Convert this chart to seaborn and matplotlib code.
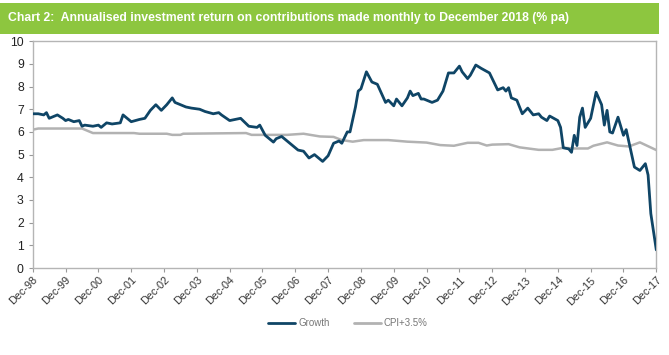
import pandas as pd
import matplotlib.pyplot as plt
import seaborn as sns

# months since Dec-98 and annualised return (% pa)
growth_months = [0, 2, 4, 5, 6, 9, 11, 12, 13, 15, 17, 18, 19, 22, 24, 25, 27, 29, 32, 33,
                 36, 39, 41, 43, 45, 47, 49, 51, 52, 56, 58, 61, 63, 66, 68, 69, 72, 76, 79, 82,
                 83, 85, 88, 89, 91, 93, 97, 99, 101, 103, 106, 108, 110, 112, 113, 115, 116, 118, 119, 120,
                 122, 124, 126, 129, 130, 132, 133, 135, 137, 138, 139, 141, 142, 143, 146, 148, 150, 152, 154, 156,
                 157, 159, 160, 162, 164, 167, 170, 172, 173, 174, 175, 177, 179, 181, 183, 185, 186, 188, 189, 192,
                 193, 194, 196, 197, 198, 199, 200, 201, 202, 204, 206, 208, 209, 210, 211, 212, 214, 216, 217, 218,
                 220, 222, 224, 225, 226, 228]
growth_values = [6.8, 6.8, 6.75, 6.85, 6.6, 6.75, 6.6, 6.5, 6.55, 6.45, 6.5, 6.25, 6.3, 6.25, 6.3, 6.2, 6.4, 6.35, 6.4, 6.75,
                 6.45, 6.55, 6.6, 6.95, 7.2, 6.95, 7.2, 7.5, 7.3, 7.1, 7.05, 7.0, 6.9, 6.8, 6.85, 6.75, 6.5, 6.6, 6.25, 6.2,
                 6.3, 5.85, 5.55, 5.7, 5.8, 5.6, 5.2, 5.15, 4.85, 5.0, 4.7, 4.95, 5.5, 5.6, 5.5, 6.0, 6.0, 7.1, 7.8, 7.9,
                 8.65, 8.2, 8.1, 7.3, 7.4, 7.15, 7.45, 7.15, 7.5, 7.8, 7.6, 7.7, 7.45, 7.45, 7.3, 7.4, 7.8, 8.6, 8.6, 8.9,
                 8.65, 8.35, 8.5, 8.95, 8.8, 8.6, 7.85, 7.95, 7.8, 7.95, 7.5, 7.4, 6.8, 7.05, 6.75, 6.8, 6.65, 6.5, 6.7, 6.5,
                 6.2, 5.3, 5.25, 5.1, 5.85, 5.4, 6.65, 7.05, 6.2, 6.6, 7.75, 7.2, 6.3, 6.95, 6.0, 5.95, 6.65, 5.85, 6.1, 5.55,
                 4.45, 4.3, 4.6, 4.1, 2.4, 0.8]

cpi_months = [0, 2, 18, 22, 37, 39, 49, 51, 54, 55, 78, 80, 93, 99, 105, 110, 113, 117, 121, 130,
              137, 144, 149, 154, 159, 163, 166, 168, 174, 178, 185, 190, 194, 198, 203, 205, 210, 214, 218, 222, 228]
cpi_values = [6.1, 6.15, 6.15, 5.95, 5.95, 5.92, 5.92, 5.87, 5.87, 5.92, 5.95, 5.87, 5.87, 5.92, 5.8, 5.78, 5.64, 5.57, 5.64, 5.64,
              5.57, 5.53, 5.42, 5.39, 5.52, 5.52, 5.4, 5.44, 5.46, 5.32, 5.21, 5.21, 5.3, 5.27, 5.27, 5.39, 5.54, 5.4, 5.36, 5.54, 5.2]

tick_labels = ["Dec-98", "Dec-99", "Dec-00", "Dec-01", "Dec-02", "Dec-03", "Dec-04", "Dec-05", "Dec-06", "Dec-07",
               "Dec-08", "Dec-09", "Dec-10", "Dec-11", "Dec-12", "Dec-13", "Dec-14", "Dec-15", "Dec-16", "Dec-17"]

df = pd.concat([
    pd.DataFrame({"month": growth_months, "value": growth_values, "series": "Growth"}),
    pd.DataFrame({"month": cpi_months, "value": cpi_values, "series": "CPI+3.5%"}),
])

sns.set_style("white")
plt.rcParams['font.family'] = ['Liberation Sans', 'DejaVu Sans']

fig = plt.figure(figsize=(6.69, 3.55), dpi=100)

# green title banner
fig.patches.append(plt.Rectangle((0, 0.905), 0.985, 0.087, transform=fig.transFigure,
                                 facecolor="#8dc63f", edgecolor="none"))
fig.text(0.012, 0.948, "Chart 2:  Annualised investment return on contributions made monthly to December 2018 (% pa)",
         color="white", fontsize=8.8, fontweight="bold", va="center", ha="left",
         family=['Liberation Sans Narrow', 'Liberation Sans', 'DejaVu Sans'])

ax = fig.add_axes([0.049, 0.245, 0.932, 0.639])
palette = {"Growth": "#0f4566", "CPI+3.5%": "#b2b2b2"}
sns.lineplot(data=df, x="month", y="value", hue="series", palette=palette, ax=ax,
             legend=False, sort=True)
for line, lw in zip(ax.lines, [2.0, 1.8]):
    line.set_linewidth(lw)
# draw growth on top
ax.lines[0].set_zorder(3)

ax.set_xlim(0, 228)
ax.set_ylim(0, 10)
ax.set_yticks(range(0, 11))
ax.set_xticks(range(0, 229, 12))
ax.set_xticklabels(tick_labels, rotation=45, ha="right", rotation_mode="anchor", fontsize=7.8, color="#333333")
ax.tick_params(axis="y", labelsize=8.8, colors="#222222", length=3, color="#999999", direction="out", left=True)
ax.tick_params(axis="x", length=3, color="#999999", direction="out", bottom=True, pad=2)
ax.set_xlabel("")
ax.set_ylabel("")
for side in ["left", "bottom", "top", "right"]:
    ax.spines[side].set_color("#b5b5b5")
    ax.spines[side].set_linewidth(1.0)

handles = [plt.Line2D([], [], color=palette["Growth"], lw=2),
           plt.Line2D([], [], color=palette["CPI+3.5%"], lw=2)]
fig.legend(handles, ["Growth", "CPI+3.5%"], loc="center", bbox_to_anchor=(0.52, 0.09), ncol=2,
           frameon=False, fontsize=7, labelcolor="#777777", handlelength=2.8, columnspacing=2.5, handletextpad=0.3)

fig.savefig("out.png", dpi=100)
